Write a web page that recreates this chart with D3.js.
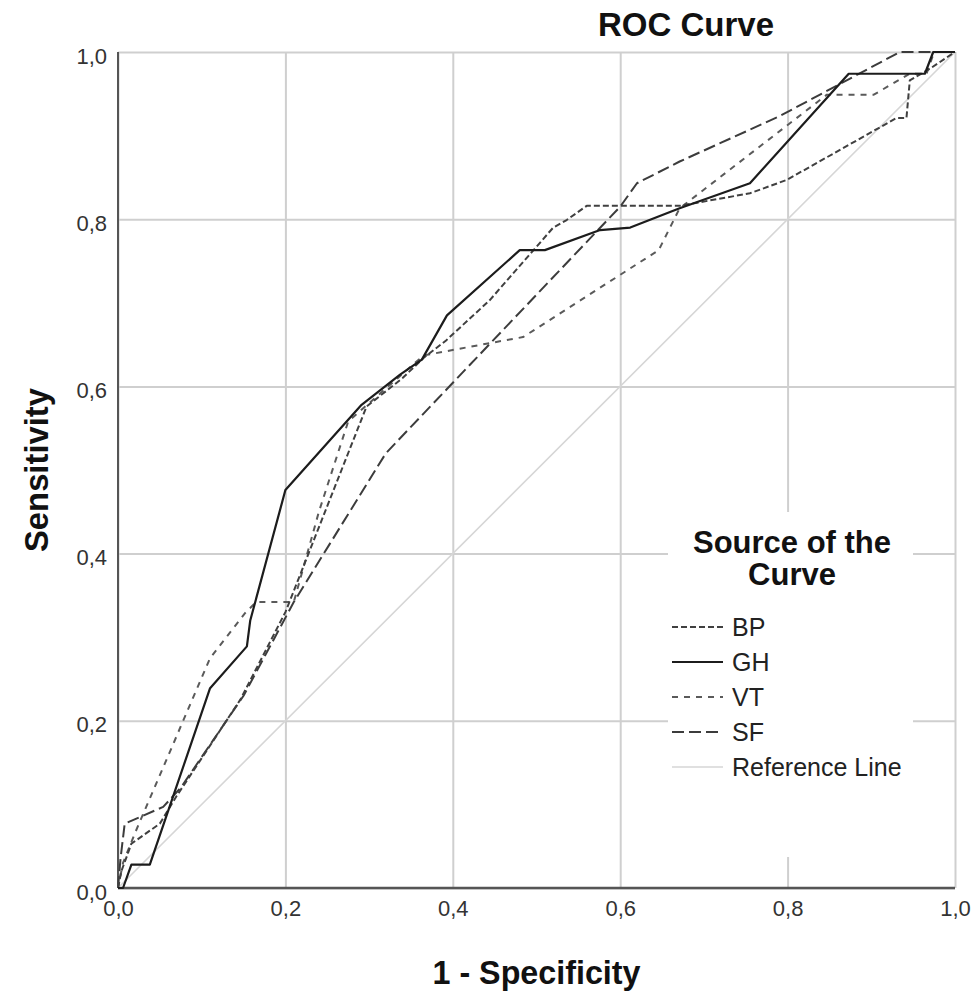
<!DOCTYPE html>
<html>
<head>
<meta charset="utf-8">
<script src="https://cdn.jsdelivr.net/npm/d3@7"></script>
<style>
  body { margin: 0; background: #fff; }
  text { font-family: "Liberation Sans", Arial, sans-serif; }
</style>
</head>
<body>
<div id="chart"></div>
<script>
// ROC curves, values: x = 1 - specificity, y = sensitivity
let bpX = [0, 0.004, 0.016, 0.05, 0.07, 0.146, 0.2, 0.297, 0.34, 0.365, 0.392, 0.444, 0.52, 0.536, 0.56, 0.671, 0.755, 0.799, 0.93, 0.942, 0.946, 0.97, 1];
let bpY = [0, 0.02, 0.053, 0.077, 0.11, 0.225, 0.33, 0.576, 0.61, 0.634, 0.655, 0.703, 0.79, 0.799, 0.816, 0.816, 0.831, 0.847, 0.921, 0.921, 0.966, 0.98, 1];

let ghX = [0, 0.006, 0.016, 0.038, 0.11, 0.154, 0.158, 0.2, 0.291, 0.337, 0.363, 0.393, 0.48, 0.51, 0.576, 0.612, 0.671, 0.755, 0.873, 0.964, 0.974, 1];
let ghY = [0, 0, 0.028, 0.028, 0.239, 0.289, 0.32, 0.476, 0.578, 0.614, 0.632, 0.685, 0.763, 0.763, 0.787, 0.79, 0.813, 0.843, 0.974, 0.974, 1, 1];

let vtX = [0, 0.006, 0.02, 0.11, 0.152, 0.165, 0.21, 0.24, 0.275, 0.3, 0.365, 0.44, 0.484, 0.646, 0.671, 0.847, 0.903, 0.946, 0.966, 0.975, 1];
let vtY = [0, 0.03, 0.065, 0.275, 0.329, 0.342, 0.342, 0.45, 0.558, 0.58, 0.637, 0.651, 0.659, 0.763, 0.813, 0.949, 0.949, 0.974, 0.974, 1, 1];

let sfX = [0, 0.003, 0.008, 0.054, 0.075, 0.15, 0.21, 0.32, 0.6, 0.62, 0.671, 0.79, 0.934, 1];
let sfY = [0, 0.035, 0.077, 0.097, 0.12, 0.23, 0.342, 0.52, 0.815, 0.843, 0.869, 0.923, 1, 1];

let refX = [0, 1];
let refY = [0, 1];

let tickValues = [0, 0.2, 0.4, 0.6, 0.8, 1.0];
let legendNames = ["BP", "GH", "VT", "SF", "Reference Line"];

let width = 971, height = 992;
let plot = { left: 118, right: 955, top: 52, bottom: 888 };

let x = d3.scaleLinear().domain([0, 1]).range([plot.left, plot.right]);
let y = d3.scaleLinear().domain([0, 1]).range([plot.bottom, plot.top]);

let fmt = d => d3.format(".1f")(d).replace(".", ",");

let series = [
  { name: "Reference Line", xs: refX, ys: refY, color: "#d6d6d6", dash: null, w: 1.6 },
  { name: "SF", xs: sfX, ys: sfY, color: "#3c3c3c", dash: "12,5", w: 2 },
  { name: "VT", xs: vtX, ys: vtY, color: "#5a5a5a", dash: "6,6", w: 2 },
  { name: "BP", xs: bpX, ys: bpY, color: "#404040", dash: "6,3", w: 2 },
  { name: "GH", xs: ghX, ys: ghY, color: "#1c1c1c", dash: null, w: 2.2 }
];

const svg = d3.select("#chart").append("svg")
  .attr("width", width)
  .attr("height", height);

// grid
const gx = svg.append("g")
  .attr("transform", `translate(0,${plot.bottom})`)
  .call(d3.axisBottom(x).tickValues(tickValues).tickFormat(fmt)
    .tickSize(-(plot.bottom - plot.top)).tickPadding(12));
gx.select(".domain").remove();
gx.selectAll("line").attr("stroke", "#cfcfcf").attr("stroke-width", 2);
gx.selectAll("text").attr("font-size", 22).attr("fill", "#333")
  .attr("font-family", "Liberation Sans, Arial, sans-serif");

const gy = svg.append("g")
  .attr("transform", `translate(${plot.left},0)`)
  .call(d3.axisLeft(y).tickValues(tickValues).tickFormat(fmt)
    .tickSize(-(plot.right - plot.left)).tickPadding(11));
gy.select(".domain").remove();
gy.selectAll("line").attr("stroke", "#cfcfcf").attr("stroke-width", 2);
gy.selectAll("text").attr("font-size", 22).attr("fill", "#333").attr("dy", "0.5em")
  .attr("font-family", "Liberation Sans, Arial, sans-serif");

// legend box sits over the grid
svg.append("rect")
  .attr("x", 668).attr("y", 512)
  .attr("width", 245).attr("height", 345)
  .attr("fill", "#fff");

// axis lines
svg.append("line")
  .attr("x1", plot.left).attr("x2", plot.left)
  .attr("y1", plot.top).attr("y2", plot.bottom)
  .attr("stroke", "#555").attr("stroke-width", 2);
svg.append("line")
  .attr("x1", plot.left).attr("x2", plot.right)
  .attr("y1", plot.bottom).attr("y2", plot.bottom)
  .attr("stroke", "#555").attr("stroke-width", 2.5);

// curves
const line = d3.line().x(d => x(d[0])).y(d => y(d[1]));
svg.append("g").selectAll("path")
  .data(series)
  .join("path")
  .attr("d", s => line(d3.zip(s.xs, s.ys)))
  .attr("fill", "none")
  .attr("stroke", s => s.color)
  .attr("stroke-width", s => s.w)
  .attr("stroke-dasharray", s => s.dash)
  .attr("stroke-linejoin", "round");

// titles
svg.append("text")
  .attr("x", 686).attr("y", 36)
  .attr("text-anchor", "middle")
  .attr("font-size", 33).attr("font-weight", "bold").attr("fill", "#111")
  .text("ROC Curve");

svg.append("text")
  .attr("x", (plot.left + plot.right) / 2).attr("y", 984)
  .attr("text-anchor", "middle")
  .attr("font-size", 34).attr("font-weight", "bold").attr("fill", "#111")
  .attr("textLength", 208).attr("lengthAdjust", "spacingAndGlyphs")
  .text("1 - Specificity");

svg.append("text")
  .attr("transform", `translate(48,${(plot.top + plot.bottom) / 2}) rotate(-90)`)
  .attr("text-anchor", "middle")
  .attr("font-size", 34).attr("font-weight", "bold").attr("fill", "#111")
  .attr("textLength", 164).attr("lengthAdjust", "spacingAndGlyphs")
  .text("Sensitivity");

// legend
const lg = svg.append("g");
lg.append("text")
  .attr("x", 792).attr("y", 553)
  .attr("text-anchor", "middle")
  .attr("font-size", 31).attr("font-weight", "bold").attr("fill", "#111")
  .text("Source of the");
lg.append("text")
  .attr("x", 792).attr("y", 585)
  .attr("text-anchor", "middle")
  .attr("font-size", 31).attr("font-weight", "bold").attr("fill", "#111")
  .text("Curve");

let rowY = d3.scalePoint().domain(legendNames).range([627, 767]);
const items = lg.selectAll("g.item")
  .data(legendNames.map(n => series.find(s => s.name === n)))
  .join("g")
  .attr("class", "item")
  .attr("transform", s => `translate(0,${rowY(s.name)})`);
items.append("line")
  .attr("x1", 672).attr("x2", 723)
  .attr("stroke", s => s.color)
  .attr("stroke-width", s => s.w)
  .attr("stroke-dasharray", s => s.dash);
items.append("text")
  .attr("x", 732).attr("dy", "0.36em")
  .attr("font-size", 25).attr("fill", "#222")
  .text(s => s.name);
</script>
</body>
</html>
